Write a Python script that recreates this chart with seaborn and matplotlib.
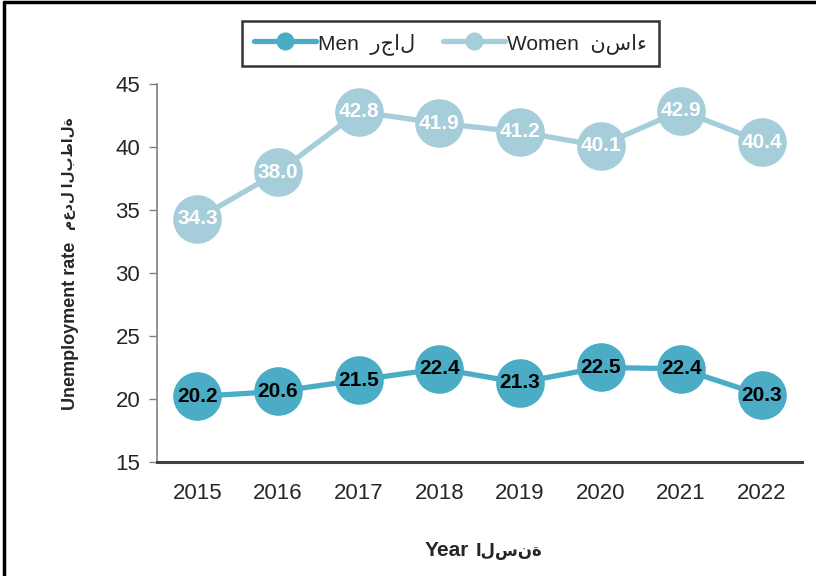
import numpy as np
import pandas as pd
import matplotlib
matplotlib.use("Agg")
import matplotlib.pyplot as plt
import seaborn as sns
from matplotlib.lines import Line2D

years = ["2015", "2016", "2017", "2018", "2019", "2020", "2021", "2022"]
men = [20.2, 20.6, 21.5, 22.4, 21.3, 22.5, 22.4, 20.3]
women = [34.3, 38.0, 42.8, 41.9, 41.2, 40.1, 42.9, 40.4]
series_names = ["Men  رجال", "Women  نساء"]
yticks = [15, 20, 25, 30, 35, 40, 45]

MEN_C = "#4BACC6"
WOMEN_C = "#A6CDDA"

sns.set_style("white")
plt.rcParams["font.family"] = ["Liberation Sans", "DejaVu Sans"]

df = pd.DataFrame({
    "pos": list(range(len(years))) * 2,
    "value": men + women,
    "series": [series_names[0]] * len(years) + [series_names[1]] * len(years),
})

fig = plt.figure(figsize=(8.16, 5.76), dpi=100)
ax = fig.add_axes([0.1924, 0.198, 0.7906, 0.656])

sns.lineplot(data=df, x="pos", y="value", hue="series", palette=[MEN_C, WOMEN_C],
             marker="o", markersize=35, markeredgewidth=0, linewidth=3.8,
             legend=False, ax=ax)

# data labels
for i, v in enumerate(men):
    ax.text(i, v, f"{v:.1f}", ha="center", va="center", fontsize=15,
            fontweight="bold", color="black", zorder=5)
for i, v in enumerate(women):
    ax.text(i, v, f"{v:.1f}", ha="center", va="center", fontsize=15,
            fontweight="bold", color="white", zorder=5)

ax.set_xlim(-0.5, len(years) - 0.5)
ax.set_ylim(15, 45)
ax.set_yticks(yticks)
ax.set_xticks(range(len(years)))
ax.set_xticklabels(years)
ax.set_xticks(np.arange(-0.5, len(years), 1.0), minor=True)
ax.tick_params(axis="x", which="major", length=0, pad=15, labelsize=16)
ax.tick_params(axis="x", which="minor", length=6, width=2, color="#404040", direction="out")
ax.tick_params(axis="y", length=6, width=1, color="#808080", direction="out",
               labelsize=16, pad=6, left=True)

for s in ["top", "right"]:
    ax.spines[s].set_visible(False)
ax.spines["bottom"].set_color("#404040")
ax.spines["bottom"].set_linewidth(2.2)
ax.spines["left"].set_color("#808080")
ax.spines["left"].set_linewidth(1.2)

ax.set_xlabel("")
ax.set_ylabel("")
fig.text(0.086, 0.288, "Unemployment rate", rotation=90, ha="center",
         va="bottom", fontsize=13, fontweight="bold")
fig.text(0.084, 0.6, "معدل البطالة", rotation=90, ha="center",
         va="bottom", fontsize=10, fontweight="bold")
fig.text(0.52, 0.045, "Year", ha="left", va="center", fontsize=15,
         fontweight="bold")
fig.text(0.583, 0.043, "السنة", ha="left", va="center", fontsize=12,
         fontweight="bold")

handles = [Line2D([0], [0], color=MEN_C, lw=3.8, marker="o", markersize=12),
           Line2D([0], [0], color=WOMEN_C, lw=3.8, marker="o", markersize=12)]
leg = fig.legend(handles, series_names, loc="upper center", bbox_to_anchor=(0.552, 0.963),
                 ncol=2, fontsize=15, frameon=True, fancybox=False, handlelength=3.0,
                 columnspacing=1.3, handletextpad=0.1, borderpad=0.55, borderaxespad=0)
leg.get_frame().set_edgecolor("black")
leg.get_frame().set_linewidth(1.8)

# outer border (top and left visible)
fig.add_artist(Line2D([0.005, 1.0], [0.996, 0.996], color="black", lw=2.5,
                      transform=fig.transFigure))
fig.add_artist(Line2D([0.005, 0.005], [0.0, 0.996], color="black", lw=2.5,
                      transform=fig.transFigure))

fig.savefig("out.png", dpi=100)
